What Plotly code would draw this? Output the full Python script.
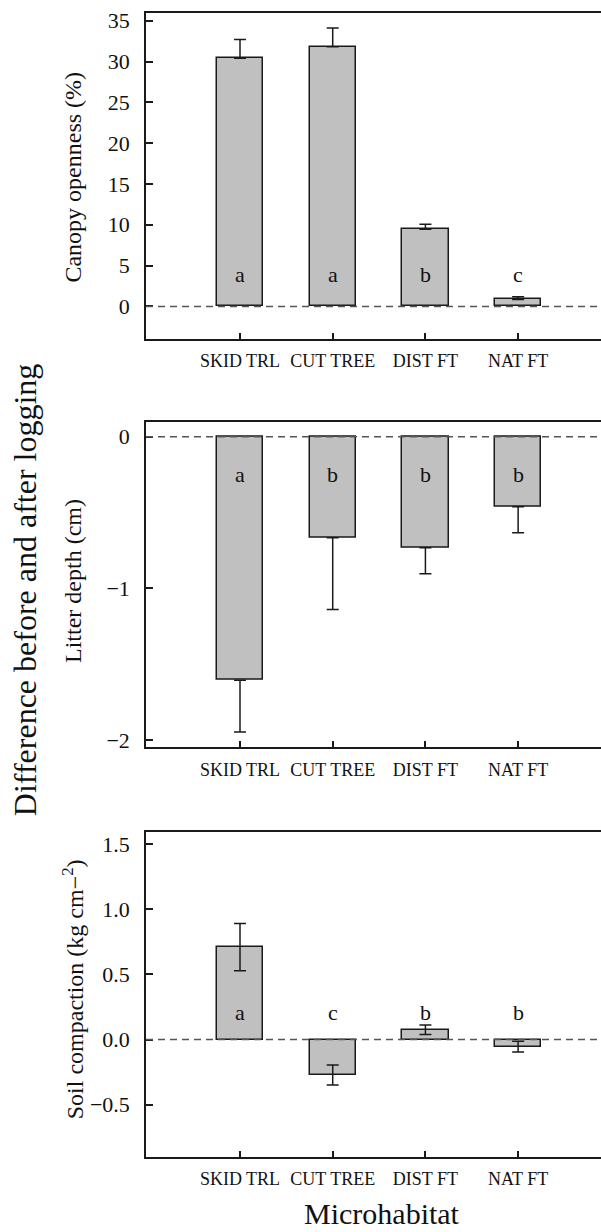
import plotly.graph_objects as go

# Microhabitat categories
categories = ["SKID TRL", "CUT TREE", "DIST FT", "NAT FT"]

# Canopy openness change (%) with standard errors
canopy_mean = [30.4, 31.8, 9.45, 0.85]
canopy_se = [2.3, 2.3, 0.62, 0.33]
canopy_letters = ["a", "a", "b", "c"]

# Litter depth change (cm) with standard errors
litter_mean = [-1.606, -0.667, -0.733, -0.462]
litter_se = [0.341, 0.473, 0.171, 0.171]
litter_letters = ["a", "b", "b", "b"]

# Soil compaction change (kg cm-2) with standard errors
soil_mean = [0.709, -0.272, 0.075, -0.054]
soil_se = [0.182, 0.077, 0.037, 0.041]
soil_letters = ["a", "c", "b", "b"]

FONT = "Liberation Serif"
BAR_FILL = "#c0c0c0"
EDGE = "#1a1a1a"

x_idx = list(range(len(categories)))

fig = go.Figure()


def add_panel(n, means, plus, minus, letters, letter_y):
    xa = "x" if n == 1 else f"x{n}"
    ya = "y" if n == 1 else f"y{n}"
    fig.add_trace(go.Bar(
        x=x_idx, y=means, width=0.5, xaxis=xa, yaxis=ya,
        marker=dict(color=BAR_FILL, line=dict(color=EDGE, width=1.5)),
        error_y=dict(type="data", symmetric=False, array=plus, arrayminus=minus,
                     color=EDGE, thickness=1.5, width=6),
        showlegend=False, hoverinfo="skip",
    ))
    for i, t in enumerate(letters):
        fig.add_annotation(x=i, y=letter_y, xref=xa, yref=ya, text=t,
                           showarrow=False, yanchor="middle",
                           font=dict(family=FONT, size=22, color="#111111"))
    # zero reference line across the panel
    fig.add_shape(type="line", xref=f"{xa} domain", yref=ya, x0=0, x1=1, y0=0, y1=0,
                  line=dict(color="#555555", width=1.5, dash="7px,5px"), layer="above")


add_panel(1, canopy_mean, canopy_se, [0] * 4, canopy_letters, 3.87)
add_panel(2, litter_mean, [0] * 4, litter_se, litter_letters, -0.252)
add_panel(3, soil_mean, soil_se, soil_se, soil_letters, 0.21)

xcommon = dict(
    range=[-1.014, 3.894], tickmode="array", tickvals=x_idx, ticktext=categories,
    showline=True, mirror=True, linecolor=EDGE, linewidth=1.5,
    ticks="inside", ticklen=6, tickwidth=1.5, tickcolor=EDGE,
    tickfont=dict(family=FONT, size=18, color="#111111"),
    ticklabelstandoff=5,
    showgrid=False, zeroline=False, domain=[0, 1], fixedrange=True,
)
ycommon = dict(
    showline=True, mirror=False, linecolor=EDGE, linewidth=1.5,
    ticks="inside", ticklen=7, tickwidth=1.5, tickcolor=EDGE,
    tickfont=dict(family=FONT, size=22, color="#111111"),
    ticklabelstandoff=10,
    showgrid=False, zeroline=False, fixedrange=True,
)

fig.update_layout(
    width=601, height=1232,
    margin=dict(l=146, r=0, t=13, b=75),
    plot_bgcolor="white", paper_bgcolor="white",
    bargap=0,
    xaxis=dict(xcommon, anchor="y"),
    xaxis2=dict(xcommon, anchor="y2"),
    xaxis3=dict(xcommon, anchor="y3"),
    yaxis=dict(ycommon, domain=[0.715, 1.0], range=[-4.0, 35.95],
               tickvals=[0, 5, 10, 15, 20, 25, 30, 35], anchor="x"),
    yaxis2=dict(ycommon, domain=[0.3582, 0.6427], range=[-2.048, 0.099],
                tickvals=[0, -1, -2], anchor="x2"),
    yaxis3=dict(ycommon, domain=[0.0, 0.2842], range=[-0.902, 1.594],
                tickvals=[-0.5, 0.0, 0.5, 1.0, 1.5], tickformat=".1f", anchor="x3"),
)

# Axis titles
fig.add_annotation(x=-0.1604, y=(1156.7 - 177.5) / 1143.7, xref="paper", yref="paper",
                   text="Canopy openness (%)", textangle=-90, showarrow=False,
                   xanchor="center", yanchor="middle",
                   font=dict(family=FONT, size=24, color="#111111"))
fig.add_annotation(x=-0.1604, y=(1156.7 - 580.8) / 1143.7, xref="paper", yref="paper",
                   text="Litter depth (cm)", textangle=-90, showarrow=False,
                   xanchor="center", yanchor="middle",
                   font=dict(family=FONT, size=24, color="#111111"))
fig.add_annotation(x=-0.1604, y=(1156.7 - 989) / 1143.7, xref="paper", yref="paper",
                   text="Soil compaction (kg cm\u2212<sup>2</sup>)", textangle=-90, showarrow=False,
                   xanchor="center", yanchor="middle",
                   font=dict(family=FONT, size=24, color="#111111"))
fig.add_annotation(x=(25 - 146) / 455, y=(1156.7 - 590) / 1143.7, xref="paper", yref="paper",
                   text="Difference before and after logging", textangle=-90, showarrow=False,
                   xanchor="center", yanchor="middle",
                   font=dict(family=FONT, size=32, color="#111111"))
fig.add_annotation(x=(381.5 - 146) / 455, y=(1156.7 - 1213) / 1143.7, xref="paper", yref="paper",
                   text="Microhabitat", showarrow=False,
                   xanchor="center", yanchor="middle",
                   font=dict(family=FONT, size=30, color="#111111"))

fig.write_html("out.html")
